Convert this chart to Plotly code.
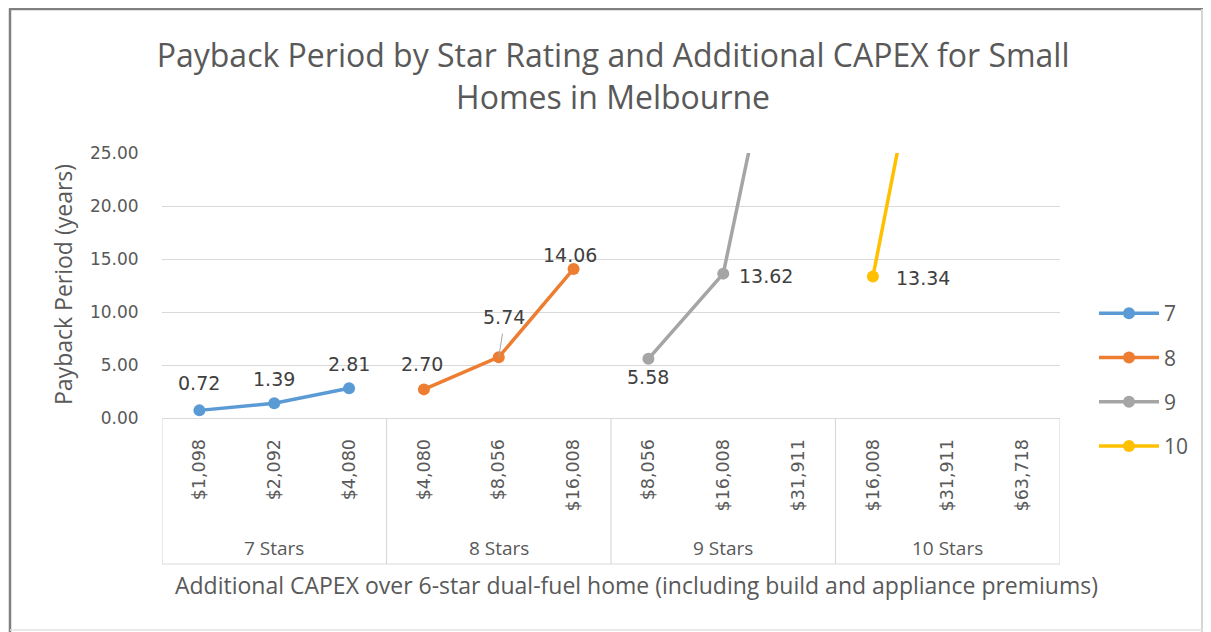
import plotly.graph_objects as go

# ---------------- data ----------------
groups = ["7 Stars", "8 Stars", "9 Stars", "10 Stars"]
capex_7 = ["$1,098", "$2,092", "$4,080"]
capex_8 = ["$4,080", "$8,056", "$16,008"]
capex_9 = ["$8,056", "$16,008", "$31,911"]
capex_10 = ["$16,008", "$31,911", "$63,718"]
series_names = ["7", "8", "9", "10"]
payback_7 = [0.72, 1.39, 2.81]
payback_8 = [2.70, 5.74, 14.06]
payback_9 = [5.58, 13.62, 47.3]
payback_10 = [13.34, 49.3, None]
y_ticks = [0, 5, 10, 15, 20, 25]

capex_all = [capex_7, capex_8, capex_9, capex_10]
payback_all = [payback_7, payback_8, payback_9, payback_10]
colors = ["#5B9BD5", "#ED7D31", "#A5A5A5", "#FFC000"]

# label offsets (style) per series/point: (xshift, yshift, xanchor)
label_style = [
    [(0, 27, "center"), (0, 24, "center"), (0, 24, "center")],
    [(-2, 25, "center"), (5, 40, "center"), (-4, 14, "center")],
    [(0, -18, "center"), (14, -2, "left"), None],
    [(21, -1, "left"), None, None],
]

OFF = 8  # page body margin of the html page
W, H = 1211 - OFF, 632 - OFF
# plot area in reference pixel coords
RL, RR, RT, RB = 162, 1060, 153, 418
L, R, T, B = RL - OFF, RR - OFF, RT - OFF, RB - OFF


def px2x(px):
    return (px - OFF - L) / (R - L)


def px2y(py):
    return (B - (py - OFF)) / (B - T)


TXT = "#595959"
fig = go.Figure()

tickvals, ticktext = [], []
idx = 0
annotations = []
for g, (name, labels, vals, col) in enumerate(zip(series_names, capex_all, payback_all, colors)):
    xs = list(range(idx, idx + len(labels)))
    tickvals += xs
    ticktext += labels
    fig.add_trace(go.Scatter(
        x=xs, y=vals, name=name, mode="lines+markers",
        line=dict(color=col, width=3.5),
        marker=dict(color=col, size=12),
        legendgroup=name, connectgaps=False,
    ))
    for i, (x, v) in enumerate(zip(xs, vals)):
        st = label_style[g][i]
        if v is None or v > 25 or st is None:
            continue
        annotations.append(dict(
            x=x, y=v, xref="x", yref="y", text=f"{v:.2f}", showarrow=False,
            xshift=st[0], yshift=st[1], xanchor=st[2], yanchor="middle",
            font=dict(family="DejaVu Sans", size=19, color="#404040"),
        ))
    # group label
    annotations.append(dict(
        x=(xs[0] + xs[-1]) / 2, y=px2y(548), xref="x", yref="paper",
        text=groups[g], showarrow=False, yanchor="middle",
        font=dict(family="Open Sans", size=19, color=TXT),
    ))
    idx += len(labels)

n = idx
# leader line for 5.74 label
annotations.append(dict(x=4, y=payback_8[1], xref="x", yref="y", ax=4, ay=-25,
                        showarrow=True, arrowhead=0, arrowwidth=1, arrowcolor="#A6A6A6", text=""))

# axis titles
annotations.append(dict(
    x=px2x(636), y=px2y(585), xref="paper", yref="paper", yanchor="middle",
    text="Additional CAPEX over 6-star dual-fuel home (including build and appliance premiums)",
    showarrow=False, font=dict(family="Open Sans", size=23, color=TXT),
))
annotations.append(dict(
    x=px2x(63), y=px2y(285), xref="paper", yref="paper", textangle=-90,
    xanchor="center", yanchor="middle",
    text="Payback Period (years)",
    showarrow=False, font=dict(family="Open Sans", size=23, color=TXT),
))

shapes = []
# outer border (dark top/left, light right/bottom)
shapes.append(dict(type="line", xref="paper", yref="paper", x0=px2x(10), x1=px2x(10),
                   y0=px2y(632), y1=px2y(8.5), line=dict(color="#808080", width=2.5)))
shapes.append(dict(type="line", xref="paper", yref="paper", x0=px2x(9), x1=px2x(1204),
                   y0=px2y(9), y1=px2y(9), line=dict(color="#808080", width=2.5)))
shapes.append(dict(type="line", xref="paper", yref="paper", x0=px2x(1202), x1=px2x(1202),
                   y0=px2y(632), y1=px2y(9), line=dict(color="#D5D5D5", width=2)))
shapes.append(dict(type="line", xref="paper", yref="paper", x0=px2x(10), x1=px2x(1203),
                   y0=px2y(630), y1=px2y(630), line=dict(color="#E2E2E2", width=1.5)))
# category box
box_bottom = px2y(564)
for b in [-0.5, 2.5, 5.5, 8.5, 11.5]:
    shapes.append(dict(type="line", xref="x", yref="paper", x0=b, x1=b, y0=0, y1=box_bottom,
                       line=dict(color="#D9D9D9", width=1.2)))
shapes.append(dict(type="line", xref="x", yref="paper", x0=-0.5, x1=n - 0.5, y0=box_bottom, y1=box_bottom,
                   line=dict(color="#D9D9D9", width=1.2)))

fig.update_layout(
    width=W, height=H,
    margin=dict(l=L, r=W - R, t=T, b=H - B),
    paper_bgcolor="white", plot_bgcolor="white",
    font=dict(family="Open Sans", color=TXT),
    title=dict(
        text="Payback Period by Star Rating and Additional CAPEX for Small<br>Homes in Melbourne",
        x=0.503, xanchor="center", y=1 - 59 / H, yanchor="middle",
        font=dict(family="Open Sans", size=32, color=TXT),
    ),
    xaxis=dict(range=[-0.5, n - 0.5], tickvals=tickvals, ticktext=ticktext, tickangle=-90,
               showgrid=False, zeroline=False, showline=True, linecolor="#D9D9D9", linewidth=1.2,
               tickfont=dict(family="DejaVu Sans", size=17.5, color=TXT),
               ticks="outside", ticklen=13, tickcolor="rgba(0,0,0,0)", fixedrange=True),
    yaxis=dict(range=[0, 25], tickvals=y_ticks, tickformat=".2f", showgrid=True, gridcolor="#D9D9D9",
               gridwidth=1.2, zeroline=False, showline=False,
               tickfont=dict(family="DejaVu Sans", size=17, color=TXT),
               ticks="outside", ticklen=19, tickcolor="rgba(0,0,0,0)"),
    legend=dict(x=px2x(1094), xanchor="left", y=px2y(293), yanchor="top",
                font=dict(family="Open Sans", size=21, color=TXT),
                tracegroupgap=14, itemwidth=60, bgcolor="rgba(0,0,0,0)"),
    annotations=annotations, shapes=shapes,
    showlegend=True,
)

fig.write_html("out.html")
